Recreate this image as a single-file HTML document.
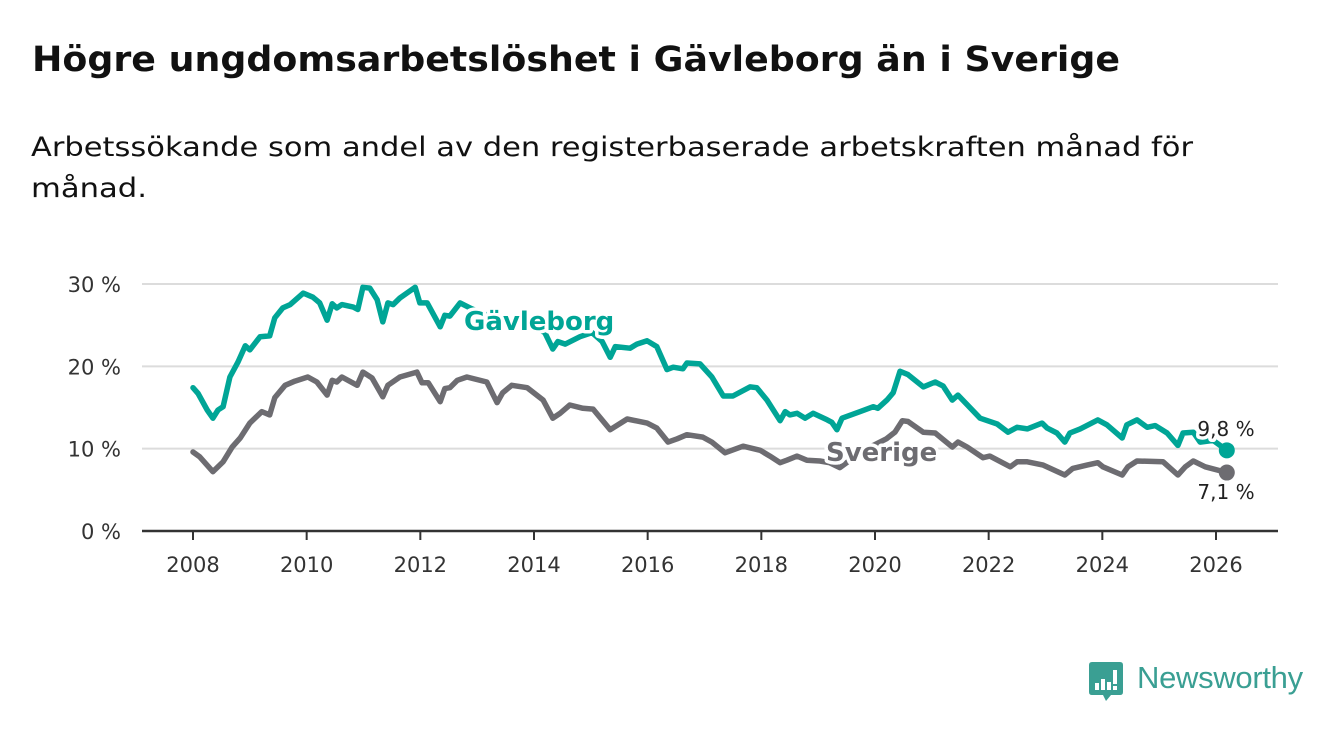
<!DOCTYPE html>
<html><head><meta charset="utf-8">
<style>
body{margin:0;width:1340px;height:734px;background:#fff;overflow:hidden;font-family:"DejaVu Sans","Liberation Sans",sans-serif;}
svg{position:absolute;left:0;top:0;}
</style></head>
<body>
<svg width="1340" height="220">
<text x="32" y="71" font-size="35" font-weight="bold" fill="#111" textLength="1088" lengthAdjust="spacingAndGlyphs">Högre ungdomsarbetslöshet i Gävleborg än i Sverige</text>
<text x="31" y="156" font-size="27" fill="#111" textLength="1162" lengthAdjust="spacingAndGlyphs">Arbetssökande som andel av den registerbaserade arbetskraften månad för</text>
<text x="31" y="197" font-size="27" fill="#111" textLength="116" lengthAdjust="spacingAndGlyphs">månad.</text>
</svg>
<svg id="chart" width="1340" height="734"></svg>
<script>
const yTicks=[0,10,20,30];
const yTickLabels=["0 %","10 %","20 %","30 %"];
const xTicks=[2008,2010,2012,2014,2016,2018,2020,2022,2024,2026];
const gDates=[2008.00,2008.09,2008.25,2008.35,2008.44,2008.53,2008.65,2008.79,2008.92,2009.00,2009.18,2009.35,2009.44,2009.58,2009.71,2009.94,2010.11,2010.23,2010.36,2010.45,2010.53,2010.62,2010.82,2010.90,2010.99,2011.11,2011.24,2011.34,2011.43,2011.52,2011.64,2011.91,2011.99,2012.12,2012.35,2012.43,2012.52,2012.70,2012.90,2013.25,2013.60,2013.93,2014.19,2014.33,2014.42,2014.55,2014.81,2015.02,2015.20,2015.34,2015.43,2015.69,2015.81,2015.99,2016.16,2016.34,2016.45,2016.62,2016.69,2016.92,2017.13,2017.33,2017.50,2017.80,2017.92,2018.10,2018.33,2018.42,2018.50,2018.63,2018.77,2018.91,2019.16,2019.24,2019.33,2019.42,2019.74,2019.97,2020.05,2020.21,2020.32,2020.44,2020.58,2020.85,2021.06,2021.20,2021.36,2021.46,2021.85,2022.15,2022.34,2022.50,2022.68,2022.94,2023.03,2023.20,2023.34,2023.43,2023.61,2023.92,2024.08,2024.35,2024.43,2024.61,2024.79,2024.93,2025.14,2025.33,2025.42,2025.60,2025.72,2025.95,2026.19];
const gValues=[17.4,16.7,14.7,13.7,14.7,15.1,18.7,20.5,22.5,22.0,23.6,23.7,25.9,27.1,27.5,28.9,28.4,27.7,25.6,27.6,27.1,27.5,27.2,26.9,29.6,29.5,28.1,25.4,27.7,27.5,28.3,29.6,27.7,27.7,24.8,26.2,26.1,27.7,27.0,26.0,25.5,25.0,24.1,22.1,23.0,22.7,23.6,24.1,23.0,21.1,22.4,22.2,22.7,23.1,22.4,19.6,19.9,19.7,20.4,20.3,18.7,16.4,16.4,17.5,17.4,15.9,13.4,14.5,14.1,14.3,13.7,14.3,13.5,13.2,12.3,13.7,14.5,15.1,14.9,15.9,16.8,19.4,19.0,17.5,18.1,17.6,15.9,16.5,13.7,13.0,12.0,12.6,12.4,13.1,12.5,11.9,10.8,11.9,12.4,13.5,12.9,11.3,12.9,13.5,12.6,12.8,11.9,10.4,11.9,12.0,10.8,11.0,9.8];
const sDates=[2008.00,2008.12,2008.35,2008.53,2008.69,2008.83,2009.00,2009.21,2009.35,2009.44,2009.62,2009.79,2010.02,2010.18,2010.36,2010.45,2010.53,2010.62,2010.89,2010.99,2011.15,2011.34,2011.43,2011.64,2011.94,2012.03,2012.14,2012.35,2012.43,2012.52,2012.65,2012.82,2013.17,2013.35,2013.45,2013.61,2013.88,2014.16,2014.33,2014.46,2014.63,2014.86,2015.04,2015.34,2015.64,2015.99,2016.16,2016.36,2016.52,2016.69,2016.97,2017.13,2017.36,2017.68,2017.98,2018.15,2018.33,2018.45,2018.63,2018.80,2019.03,2019.20,2019.38,2019.60,2019.80,2020.00,2020.20,2020.35,2020.48,2020.58,2020.85,2021.06,2021.36,2021.46,2021.62,2021.90,2022.02,2022.38,2022.50,2022.68,2022.96,2023.34,2023.48,2023.73,2023.92,2024.01,2024.35,2024.45,2024.61,2025.07,2025.33,2025.46,2025.60,2025.81,2026.19];
const sValues=[9.6,9.0,7.2,8.4,10.2,11.3,13.1,14.5,14.1,16.2,17.7,18.2,18.7,18.1,16.5,18.3,18.1,18.7,17.7,19.3,18.6,16.3,17.7,18.7,19.3,18.0,18.0,15.7,17.3,17.4,18.3,18.7,18.1,15.6,16.8,17.7,17.4,15.9,13.7,14.3,15.3,14.9,14.8,12.3,13.6,13.1,12.5,10.8,11.2,11.7,11.4,10.8,9.5,10.3,9.8,9.1,8.3,8.6,9.1,8.6,8.5,8.3,7.7,8.8,9.8,10.5,11.2,12.0,13.4,13.3,12.0,11.9,10.2,10.8,10.2,8.9,9.1,7.8,8.4,8.4,8.0,6.8,7.6,8.0,8.3,7.8,6.8,7.8,8.5,8.4,6.8,7.8,8.5,7.8,7.1];

const NS='http://www.w3.org/2000/svg';
const svg=document.getElementById('chart');
const X=v=>193+(v-2008)*(1216-193)/18;
const Y=v=>531-v*(531-284)/30;
function mk(tag,attrs,parent){const e=document.createElementNS(NS,tag);for(const k in attrs)e.setAttribute(k,attrs[k]);(parent||svg).appendChild(e);return e;}

yTicks.forEach((t,i)=>{
  if(t>0){const g=mk('line',{x1:142,x2:1278,y1:Y(t),y2:Y(t),stroke:'#dcdcdc','stroke-width':2});
  
  }
  const l=mk('text',{x:121,y:Y(t)+8,'text-anchor':'end','font-size':21,fill:'#333'});
  l.textContent=yTickLabels[i];
  
  
});
const ax=mk('line',{x1:142,x2:1278,y1:531,y2:531,stroke:'#333','stroke-width':2.5});


xTicks.forEach(t=>{
  const tk=mk('line',{x1:X(t),x2:X(t),y1:531,y2:540,stroke:'#333','stroke-width':2});
  
  
  const l=mk('text',{x:X(t),y:572,'text-anchor':'middle','font-size':21,fill:'#333'});
  l.textContent=t;
  
  
});
function line(d,v,c,name){
  const p=mk('path',{d:d.map((x,i)=>(i?'L':'M')+X(x).toFixed(1)+','+Y(v[i]).toFixed(1)).join(''),fill:'none',stroke:c,'stroke-width':5.5,'stroke-linejoin':'round','stroke-linecap':'round'});
  
  
  const n=d.length-1;
  const dot=mk('circle',{cx:X(d[n]),cy:Y(v[n]),r:8,fill:c});
  
  
}
line(sDates,sValues,'#6d6c71','sverige');
line(gDates,gValues,'#00a596','gavleborg');
function lab(txt,x,y,c,size,w,name,anchor){
  const t=mk('text',{x:x,y:y,fill:c,'font-size':size,'font-weight':w,stroke:'#fff','stroke-width':7,'paint-order':'stroke','stroke-linejoin':'round','text-anchor':anchor||'start'});
  t.textContent=txt;
  
  
}
lab('Gävleborg',464,330,'#00a596',26,'bold','gavleborg-label');
lab('Sverige',826,461,'#6d6c71',26,'bold','sverige-label');
lab(gValues[gValues.length-1].toFixed(1).replace('.',',')+' %',1226,436,'#222',20,'normal','gavleborg-end-value','middle');
lab(sValues[sValues.length-1].toFixed(1).replace('.',',')+' %',1226,499,'#222',20,'normal','sverige-end-value','middle');
</script>
<div style="position:absolute;left:1089px;top:662px;width:220px;height:42px;">
  <svg width="36" height="42" style="position:absolute;left:0;top:0">
    <path d="M3 0H31Q34 0 34 3V30Q34 33 31 33H22L17 39L14 33H3Q0 33 0 30V3Q0 0 3 0Z" fill="#3a9f93"/>
    <rect x="6" y="21" width="4" height="7" fill="#fff"/><rect x="12" y="17" width="4" height="11" fill="#fff"/><rect x="18" y="20" width="4" height="8" fill="#fff"/><rect x="24" y="8" width="4" height="14" fill="#fff"/><rect x="24" y="24" width="4" height="4" fill="#fff"/>
  </svg>
  <span style="position:absolute;left:48px;top:-2px;font-family:'Liberation Sans',sans-serif;font-size:31px;color:#3a9f93;letter-spacing:-0.3px;">Newsworthy</span>
</div>
</body></html>
